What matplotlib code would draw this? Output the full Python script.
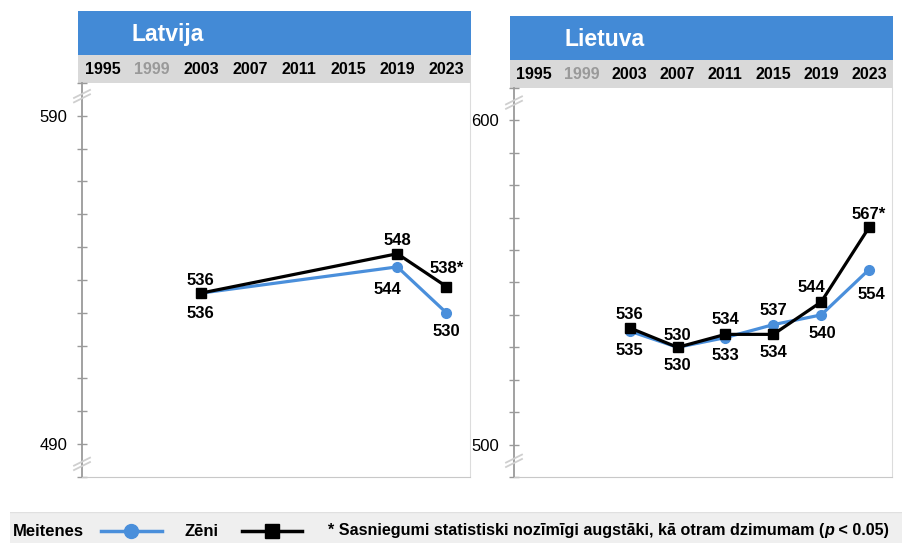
"""Latvija / Lietuva: meiteņu un zēnu sasniegumu tendences (1995-2023)."""

import matplotlib

matplotlib.use("Agg")
import matplotlib.pyplot as plt
import matplotlib.transforms as mtransforms
import numpy as np
from matplotlib.lines import Line2D

plt.rcParams["font.family"] = ["Liberation Sans", "DejaVu Sans"]

# ---- data -------------------------------------------------------------
header_years = [1995, 1999, 2003, 2007, 2011, 2015, 2019, 2023]
muted_years = [1999]

lv_years = [2003, 2019, 2023]
lv_girls = [536, 544, 530]
lv_boys = [536, 548, 538]
lv_girls_sig = [False, False, False]
lv_boys_sig = [False, False, True]

lt_years = [2003, 2007, 2011, 2015, 2019, 2023]
lt_girls = [535, 530, 533, 537, 540, 554]
lt_boys = [536, 530, 534, 534, 544, 567]
lt_girls_sig = [False] * 6
lt_boys_sig = [False, False, False, False, False, True]

# label offsets in pixels (dx, dy), dy positive = up
lv_girls_off = [(0, -20), (-10, -23), (0, -19)]
lv_boys_off = [(0, 13), (0, 13), (0, 18)]
lt_girls_off = [(0, -19), (0, -18), (0, -18), (0, 14), (1, -19), (2, -25)]
lt_boys_off = [(0, 13), (0, 12), (0, 15), (0, -18), (-10, 14), (0, 13)]

W, H = 903, 543
BLUE = "#438ad6"
LINE_BLUE = "#4a8fdb"
HDR_GREY = "#d9d9d9"
AXIS_GREY = "#9a9a9a"


def rect(x0, y0, x1, y1):
    return [x0 / W, 1 - y1 / H, (x1 - x0) / W, (y1 - y0) / H]


def fmt(v, sig):
    return f"{v}*" if sig else f"{v}"


panels = [
    dict(title="Latvija", left=78, right=471, blue_top=11, grey_top=55, grey_bot=83,
         axis_x=82, plot_right=470, plot_bot=477, ylim=(480, 600), labeled=(490, 590),
         years=lv_years, girls=lv_girls, boys=lv_boys, gsig=lv_girls_sig, bsig=lv_boys_sig,
         goff=lv_girls_off, boff=lv_boys_off, breaks=(596, 484)),
    dict(title="Lietuva", left=510, right=893, blue_top=16, grey_top=60, grey_bot=88,
         axis_x=514, plot_right=892, plot_bot=477, ylim=(490, 610), labeled=(500, 600),
         years=lt_years, girls=lt_girls, boys=lt_boys, gsig=lt_girls_sig, bsig=lt_boys_sig,
         goff=lt_girls_off, boff=lt_boys_off, breaks=(605.5, 495)),
]

fig = plt.figure(figsize=(W / 100, H / 100), dpi=100)

for p in panels:
    x_lo, x_hi = header_years[0] - 2, header_years[-1] + 2
    scale = (p["right"] - p["left"]) / (x_hi - x_lo)

    # blue title bar
    tax = fig.add_axes(rect(p["left"], p["blue_top"], p["right"], p["grey_top"]))
    tax.set_facecolor(BLUE)
    tax.set_xticks([])
    tax.set_yticks([])
    for s in tax.spines.values():
        s.set_visible(False)
    tax.text(54 / (p["right"] - p["left"]), 0.47, p["title"], transform=tax.transAxes,
             color="white", fontsize=16.5, fontweight="bold", ha="left", va="center")

    # grey years row
    yax = fig.add_axes(rect(p["left"], p["grey_top"], p["right"], p["grey_bot"]))
    yax.set_facecolor(HDR_GREY)
    yax.set_xlim(x_lo, x_hi)
    yax.set_ylim(0, 1)
    yax.set_xticks([])
    yax.set_yticks([])
    for s in yax.spines.values():
        s.set_visible(False)
    for yr in header_years:
        yax.text(yr, 0.47, str(yr), ha="center", va="center", fontsize=11.5,
                 fontweight="bold", color="#999999" if yr in muted_years else "black")

    # plot area
    ax = fig.add_axes(rect(p["axis_x"], p["grey_bot"], p["plot_right"], p["plot_bot"]))
    ax.set_xlim(x_lo + (p["axis_x"] - p["left"]) / scale,
                x_hi - (p["right"] - p["plot_right"]) / scale)
    ax.set_ylim(*p["ylim"])
    ticks = np.arange(p["ylim"][0], p["ylim"][1] + 1, 10)
    ax.set_yticks(ticks)
    ax.set_yticklabels([str(t) if t in p["labeled"] else "" for t in ticks], fontsize=12)
    ax.set_xticks([])
    ax.tick_params(axis="y", direction="inout", length=7.5, width=1, color=AXIS_GREY,
                   labelsize=12, pad=7)
    ax.spines["top"].set_visible(False)
    ax.spines["left"].set_color(AXIS_GREY)
    ax.spines["left"].set_linewidth(1.3)
    ax.spines["right"].set_color("#dcdcdc")
    ax.spines["bottom"].set_color("#c8c8c8")

    ax.plot(p["years"], p["girls"], color=LINE_BLUE, lw=2.3, marker="o", ms=7,
            zorder=3, clip_on=False)
    ax.plot(p["years"], p["boys"], color="black", lw=2.3, marker="s", ms=7.5,
            zorder=4, clip_on=False)

    for x, v, s, off in zip(p["years"], p["girls"], p["gsig"], p["goff"]):
        ax.annotate(fmt(v, s), (x, v), xytext=off, textcoords="offset pixels",
                    ha="center", va="center", fontsize=12, fontweight="bold", zorder=5)
    for x, v, s, off in zip(p["years"], p["boys"], p["bsig"], p["boff"]):
        ax.annotate(fmt(v, s), (x, v), xytext=off, textcoords="offset pixels",
                    ha="center", va="center", fontsize=12, fontweight="bold", zorder=5)

    # axis break marks
    trans = mtransforms.blended_transform_factory(ax.transAxes, ax.transData)
    for yb in p["breaks"]:
        cx, cy = trans.transform((0, yb))
        for d in (-2.2, 2.2):
            fig.add_artist(Line2D([cx - 8, cx + 8], [cy - 4 + d, cy + 4 + d],
                                  transform=mtransforms.IdentityTransform(),
                                  color="#cfcfcf", lw=1.3, zorder=10))

# ---- legend strip -----------------------------------------------------
lax = fig.add_axes(rect(10, 512, W, H))
lax.set_facecolor("#efefef")
lax.set_xlim(10, W)
lax.set_ylim(H, 512)
lax.set_xticks([])
lax.set_yticks([])
for s in lax.spines.values():
    s.set_visible(False)
lax.axhline(512, color="#e0e0e0", lw=1)

ly = 531
lax.text(13, ly, "Meitenes", fontsize=12, fontweight="bold", va="center")
lax.plot([101, 162], [ly, ly], color=LINE_BLUE, lw=2.5)
lax.plot([131], [ly], color=LINE_BLUE, marker="o", ms=10)
lax.text(185, ly, "Zēni", fontsize=12, fontweight="bold", va="center")
lax.plot([242, 302], [ly, ly], color="black", lw=2.5)
lax.plot([272], [ly], color="black", marker="s", ms=10)

fig.canvas.draw()
renderer = fig.canvas.get_renderer()
x_cur = 328
for piece, style in [("* Sasniegumi statistiski nozīmīgi augstāki, kā otram dzimumam (", "normal"),
                     ("p", "italic"), (" < 0.05)", "normal")]:
    t = lax.text(x_cur, ly, piece, fontsize=11.65, fontweight="bold", style=style, va="center")
    bb = t.get_window_extent(renderer)
    x_cur += bb.width

fig.savefig("out.png", dpi=100)
